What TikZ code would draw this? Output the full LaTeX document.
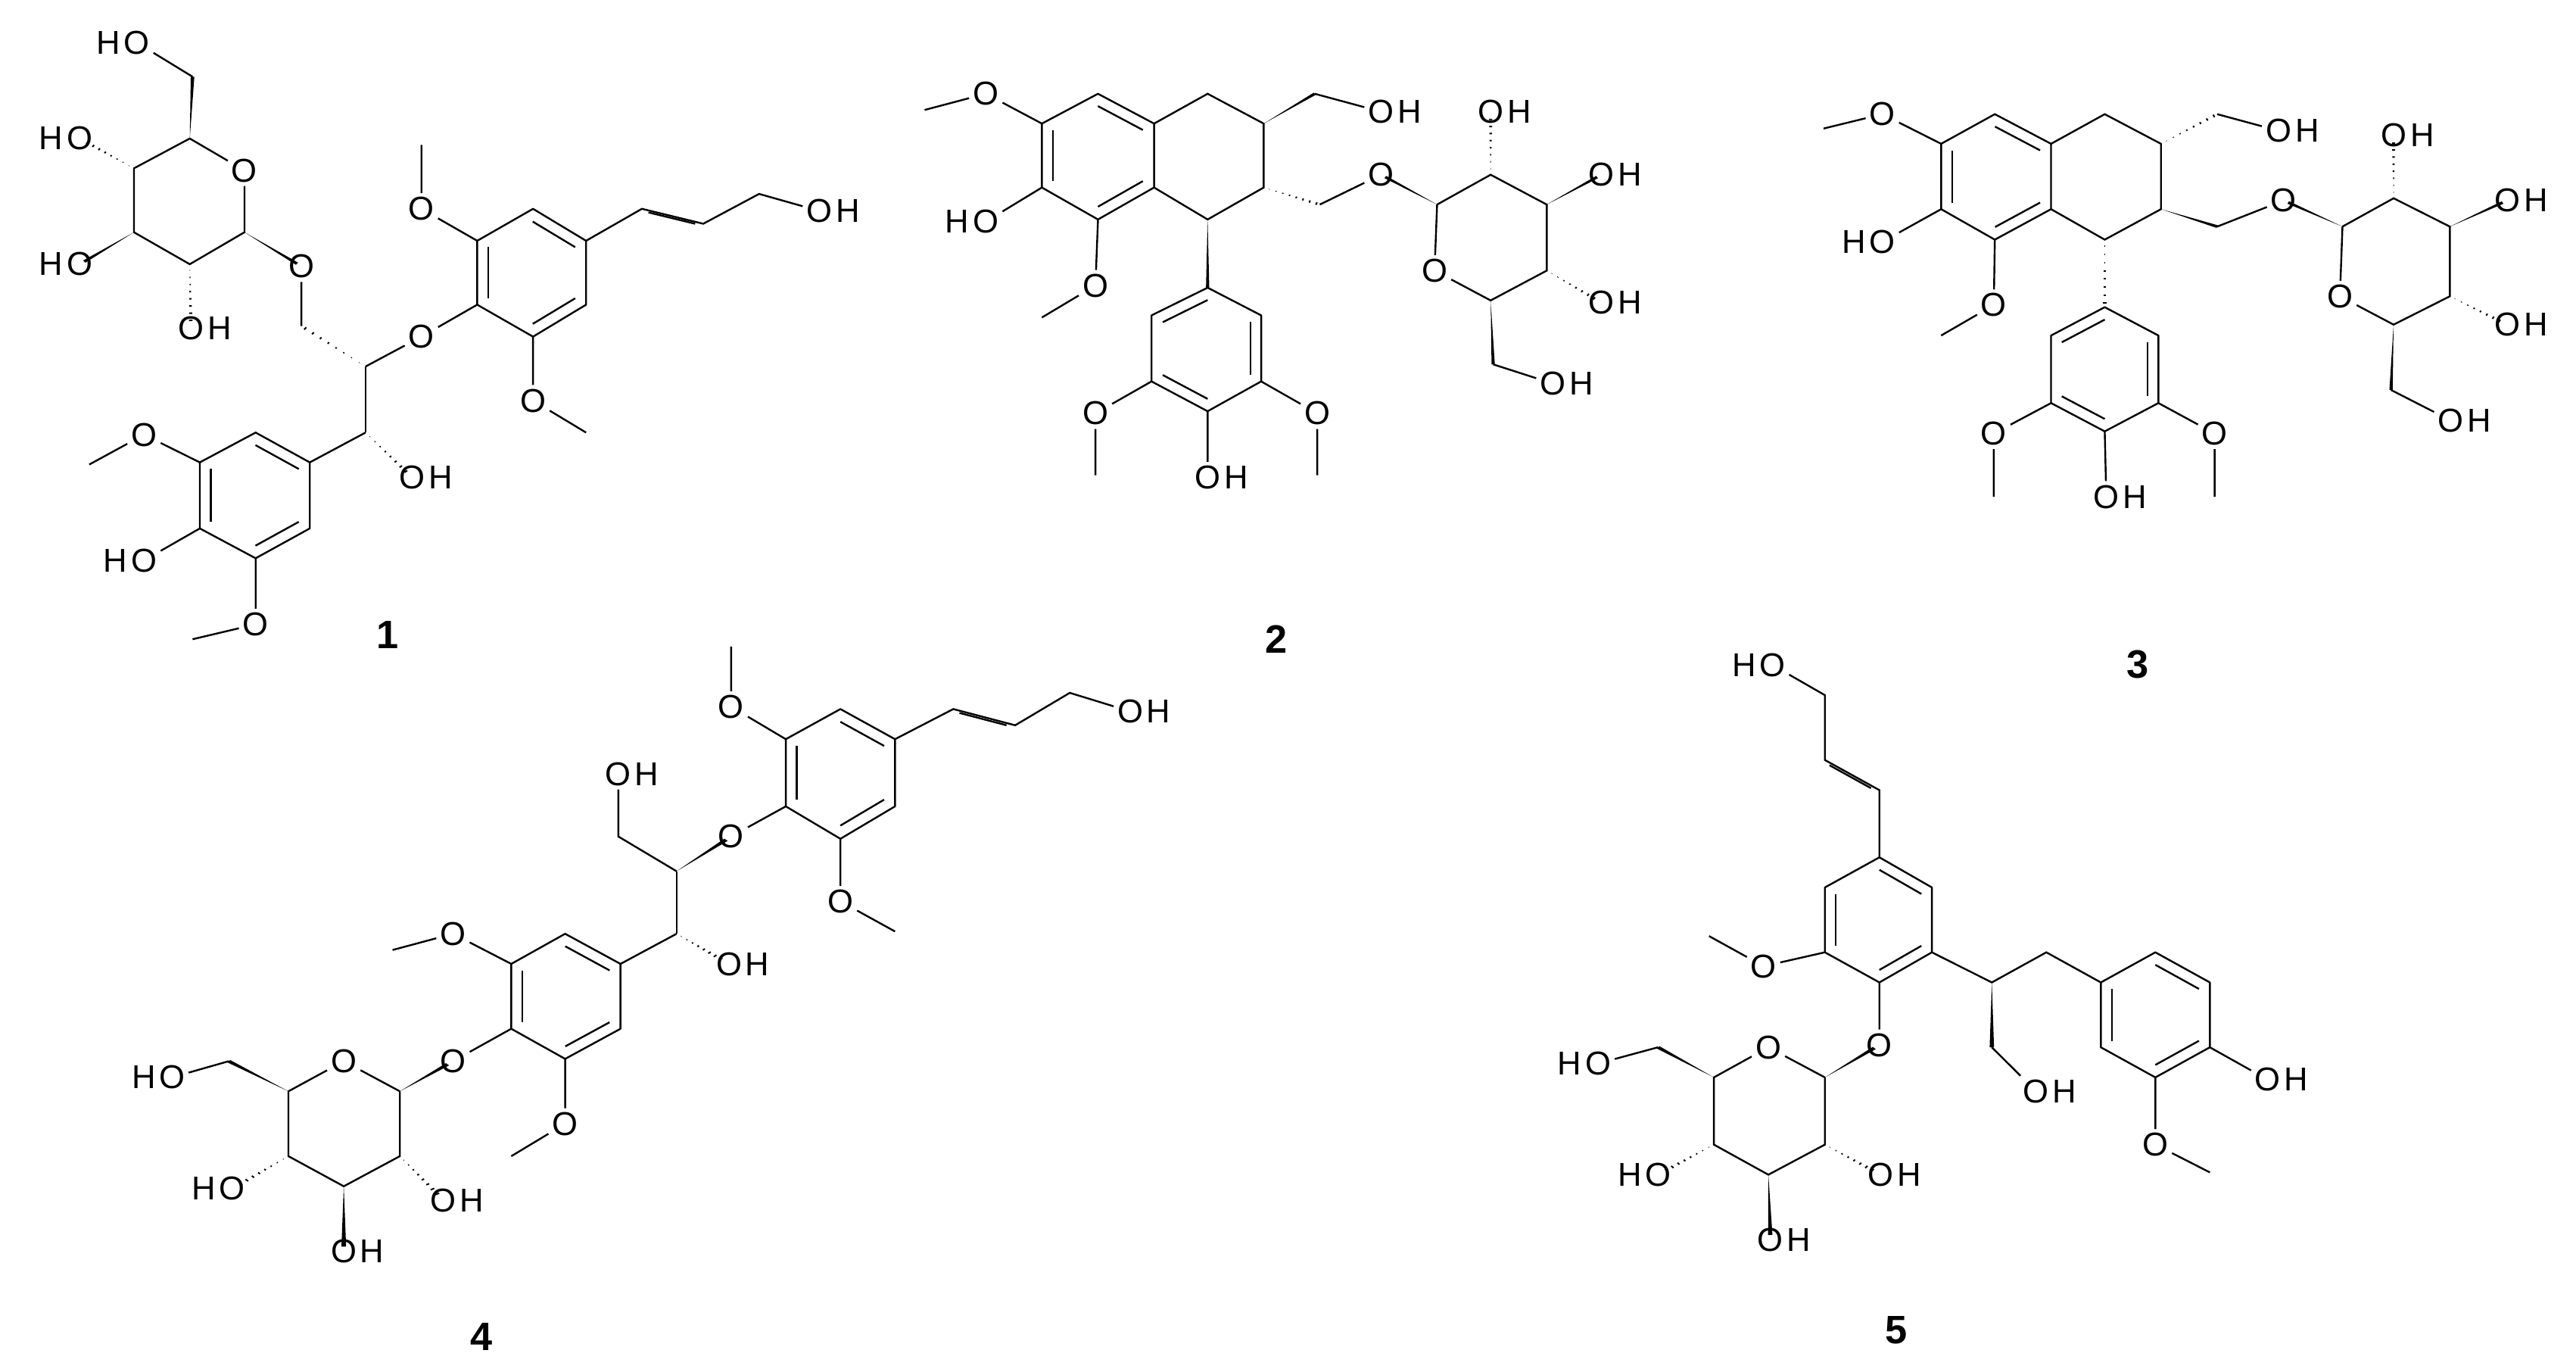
\documentclass[tikz,border=0pt]{standalone}
\usepackage{fontspec}
\usetikzlibrary{calc}
\newfontfamily\arialf{Liberation Sans}
\newcommand\lblf{\arialf\fontsize{20}{24}\selectfont}
\newcommand\numf{\arialf\bfseries\fontsize{24}{28}\selectfont}
\tikzset{lab/.style={font=\lblf,inner sep=1.8pt},hlab/.style={font=\lblf,inner sep=0pt},num/.style={font=\numf},
 every path/.style={line width=1.1pt}}
\newcommand\Ol[2]{\node[lab] (#1) at (#2) {O};}
\newcommand\OHl[2]{\node[lab] (#1) at (#2) {O};\node[hlab,anchor=base west] at ([xshift=-1.8pt]#1.base east) {H};}
\newcommand\HOl[2]{\node[lab] (#1) at (#2) {O};\node[hlab,anchor=base east] at ([xshift=1.8pt]#1.base west) {H};}
\newcommand\wdg[2]{\fill (#1) -- ($(#2)!3.2pt!90:(#1)$) -- ($(#2)!3.2pt!-90:(#1)$) -- cycle;}
\newcommand\hsh[2]{\foreach \t in {0.1,0.22,0.34,0.46,0.58,0.7,0.82,0.94}{\pgfmathsetmacro\hwd{\t*3.4}\draw[line width=0.9pt] ($(#1)!\t!(#2)!\hwd pt!90:(#2)$) -- ($(#1)!\t!(#2)!\hwd pt!-90:(#2)$);}}
\newcommand\wdgL[2]{\coordinate (tmpw) at ($(#2)!10pt!(#1)$);\wdg{#1}{tmpw}}
\newcommand\hshL[2]{\coordinate (tmph) at ($(#2)!10pt!(#1)$);\hsh{#1}{tmph}}
\newcommand\hexring[7]{\coordinate (#7) at ($(#1)!.5!(#4)$);\draw[line join=round] (#1)--(#2)--(#3)--(#4)--(#5)--(#6)--cycle;}
\newcommand\innerdb[3]{\draw ($(#1)!.2!(#3)$)--($(#2)!.2!(#3)$);}
\newcommand\alk[2]{\draw ($(#1)!.12!(#2)!4.5pt!-90:(#2)$) -- ($(#2)!.12!(#1)!4.5pt!90:(#1)$);}
\begin{document}
\begin{tikzpicture}[x=1pt,y=-1pt]
\useasboundingbox (0,0) rectangle (1560,828.4);
% ===== 1 =====
\begin{scope}[xscale=.338,yscale=.258]
\HOl{aO6}{245,100}
\coordinate (aC6) at (345,180); \coordinate (aC5) at (340,325);
\Ol{aOr}{438,400}
\coordinate (aC1) at (438,545); \coordinate (aC2) at (340,620);
\coordinate (aC3) at (240,545); \coordinate (aC4) at (240,395);
\draw (aO6)--(aC6); \wdg{aC5}{aC6}
\draw (aC5)--(aOr)--(aC1)--(aC2)--(aC3)--(aC4)--(aC5);
\HOl{aO4}{143,325} \hshL{aC4}{aO4}
\HOl{aO3}{143,620} \wdgL{aC3}{aO3}
\OHl{aO2}{342,770} \hshL{aC2}{aO2}
\Ol{aOg}{540,625} \wdgL{aC1}{aOg}
\coordinate (aCH) at (540,765); \draw (aOg)--(aCH);
\coordinate (aCb) at (655,860); \hsh{aCb}{aCH}
\Ol{aOe}{755,790} \draw (aCb)--(aOe);
\coordinate (aQ1) at (855,715); \coordinate (aQ2) at (855,565); \coordinate (aQ3) at (955,490);
\coordinate (aQ4) at (1050,565); \coordinate (aQ5) at (1050,715); \coordinate (aQ6) at (955,790);
\hexring{aQ1}{aQ2}{aQ3}{aQ4}{aQ5}{aQ6}{aQc}
\innerdb{aQ3}{aQ4}{aQc}\innerdb{aQ1}{aQ2}{aQc}\innerdb{aQ5}{aQ6}{aQc}
\draw (aOe)--(aQ1);
\Ol{aOm1}{755,490} \coordinate (aM1) at (755,340); \draw (aQ2)--(aOm1)--(aM1);
\Ol{aOm2}{955,940} \coordinate (aM2) at (1050,1015); \draw (aQ6)--(aOm2)--(aM2);
\coordinate (aA) at (1150,490); \coordinate (aB) at (1260,525); \coordinate (aCH2) at (1360,455);
\OHl{aOH}{1468,495}
\draw (aQ4)--(aA)--(aB)--(aCH2)--(aOH); \alk{aA}{aB}
\coordinate (aCa) at (655,1015); \draw (aCb)--(aCa);
\OHl{aOa}{738,1120} \hshL{aCa}{aOa}
\coordinate (aP1) at (555,1085); \coordinate (aP2) at (458,1015); \coordinate (aP3) at (358,1085);
\coordinate (aP4) at (358,1240); \coordinate (aP5) at (458,1310); \coordinate (aP6) at (555,1240);
\hexring{aP1}{aP2}{aP3}{aP4}{aP5}{aP6}{aPc}
\innerdb{aP1}{aP2}{aPc}\innerdb{aP3}{aP4}{aPc}\innerdb{aP5}{aP6}{aPc}
\draw (aCa)--(aP1);
\Ol{aOm3}{258,1020} \coordinate (aM3) at (160,1090); \draw (aP3)--(aOm3)--(aM3);
\HOl{aOh}{258,1315} \draw (aP4)--(aOh);
\Ol{aOm4}{458,1465} \coordinate (aM4) at (345,1500); \draw (aP5)--(aOm4)--(aM4);
\node[num] (n1) at (695,1490) {1};
\end{scope}
% ===== 2 =====
\begin{scope}[shift={(527.5,0)},xscale=.3088,yscale=.258]
\coordinate (bA1) at (335,290); \coordinate (bA2) at (445,220); \coordinate (bA3) at (555,290);
\coordinate (bA4) at (555,440); \coordinate (bA5) at (445,515); \coordinate (bA6) at (335,440);
\hexring{bA1}{bA2}{bA3}{bA4}{bA5}{bA6}{bAc}
\innerdb{bA2}{bA3}{bAc}\innerdb{bA4}{bA5}{bAc}\innerdb{bA6}{bA1}{bAc}
\Ol{bO1}{225,220} \coordinate (bM1) at (105,258); \draw (bA1)--(bO1)--(bM1);
\HOl{bOh}{225,520} \draw (bA6)--(bOh);
\Ol{bO2}{440,670} \coordinate (bM2) at (335,745); \draw (bA5)--(bO2)--(bM2);
\coordinate (bB1) at (660,220); \coordinate (bB2) at (770,290); \coordinate (bB3) at (770,440); \coordinate (bB4) at (660,515);
\draw (bA3)--(bB1)--(bB2)--(bB3)--(bB4)--(bA4);
\coordinate (bC7) at (870,220); \wdg{bB2}{bC7}
\OHl{bO7}{1000,262} \draw (bC7)--(bO7);
\coordinate (bC8) at (880,480); \hsh{bB3}{bC8}
\Ol{bOg}{1000,410} \draw (bC8)--(bOg);
\coordinate (bG1) at (1110,480); \coordinate (bG2) at (1215,410); \coordinate (bG3) at (1325,480);
\coordinate (bG4) at (1325,635); \coordinate (bG5) at (1215,705); \Ol{bOr}{1105,635}
\wdgL{bG1}{bOg}
\draw (bG1)--(bG2)--(bG3)--(bG4)--(bG5)--(bOr)--(bG1);
\OHl{bOa}{1215,262} \hshL{bG2}{bOa}
\OHl{bOb}{1432,410} \wdgL{bG3}{bOb}
\OHl{bOc}{1432,710} \hshL{bG4}{bOc}
\coordinate (bG6) at (1220,855); \wdg{bG5}{bG6}
\OHl{bOd}{1337,900} \draw (bG6)--(bOd);
\coordinate (bD1) at (660,675); \coordinate (bD2) at (765,740); \coordinate (bD3) at (765,895);
\coordinate (bD4) at (660,965); \coordinate (bD5) at (550,895); \coordinate (bD6) at (550,740);
\hexring{bD1}{bD2}{bD3}{bD4}{bD5}{bD6}{bDc}
\innerdb{bD6}{bD1}{bDc}\innerdb{bD2}{bD3}{bDc}\innerdb{bD4}{bD5}{bDc}
\wdg{bB4}{bD1}
\Ol{bO3}{440,970} \coordinate (bM3) at (440,1115); \draw (bD5)--(bO3)--(bM3);
\Ol{bO4}{875,970} \coordinate (bM4) at (875,1115); \draw (bD3)--(bO4)--(bM4);
\OHl{bO5}{660,1120} \draw (bD4)--(bO5);
\node[num] (n2) at (795,1500) {2};
\end{scope}
% ===== 3 =====
\begin{scope}[shift={(1078,0)},xscale=.3096,yscale=.2638]
\coordinate (cA1) at (315,330); \coordinate (cA2) at (420,262); \coordinate (cA3) at (530,330);
\coordinate (cA4) at (530,480); \coordinate (cA5) at (420,550); \coordinate (cA6) at (315,480);
\hexring{cA1}{cA2}{cA3}{cA4}{cA5}{cA6}{cAc}
\innerdb{cA2}{cA3}{cAc}\innerdb{cA4}{cA5}{cAc}\innerdb{cA6}{cA1}{cAc}
\Ol{cO1}{200,262} \coordinate (cM1) at (85,295); \draw (cA1)--(cO1)--(cM1);
\HOl{cOh}{200,555} \draw (cA6)--(cOh);
\Ol{cO2}{418,700} \coordinate (cM2) at (315,770); \draw (cA5)--(cO2)--(cM2);
\coordinate (cB1) at (635,262); \coordinate (cB2) at (745,330); \coordinate (cB3) at (745,480); \coordinate (cB4) at (635,550);
\draw (cA3)--(cB1)--(cB2)--(cB3)--(cB4)--(cA4);
\coordinate (cC7) at (855,262); \hsh{cB2}{cC7}
\OHl{cO7}{975,300} \draw (cC7)--(cO7);
\coordinate (cC8) at (855,520); \wdg{cB3}{cC8}
\Ol{cOg}{985,460} \draw (cC8)--(cOg);
\coordinate (cG1) at (1100,520); \coordinate (cG2) at (1200,455); \coordinate (cG3) at (1310,520);
\coordinate (cG4) at (1310,680); \coordinate (cG5) at (1200,745); \Ol{cOr}{1095,680}
\wdgL{cG1}{cOg}
\draw (cG1)--(cG2)--(cG3)--(cG4)--(cG5)--(cOr)--(cG1);
\OHl{cOa}{1200,310} \hshL{cG2}{cOa}
\OHl{cOb}{1422,460} \wdgL{cG3}{cOb}
\OHl{cOc}{1422,745} \hshL{cG4}{cOc}
\coordinate (cG6) at (1195,895); \wdg{cG5}{cG6}
\OHl{cOd}{1312,965} \draw (cG6)--(cOd);
\coordinate (cD1) at (635,705); \coordinate (cD2) at (740,770); \coordinate (cD3) at (740,925);
\coordinate (cD4) at (635,990); \coordinate (cD5) at (530,925); \coordinate (cD6) at (530,770);
\hexring{cD1}{cD2}{cD3}{cD4}{cD5}{cD6}{cDc}
\innerdb{cD6}{cD1}{cDc}\innerdb{cD2}{cD3}{cDc}\innerdb{cD4}{cD5}{cDc}
\hsh{cB4}{cD1}
\Ol{cO3}{418,995} \coordinate (cM3) at (418,1140); \draw (cD5)--(cO3)--(cM3);
\Ol{cO4}{850,995} \coordinate (cM4) at (850,1140); \draw (cD3)--(cO4)--(cM4);
\OHl{cO5}{638,1140} \draw (cD4)--(cO5);
\node[num] (n3) at (700,1525) {3};
\end{scope}
% ===== 4 =====
\begin{scope}[shift={(45.9,390)},xscale=.441,yscale=.2805]
\coordinate (dQ1) at (975,350); \coordinate (dQ2) at (975,205); \coordinate (dQ3) at (1050,140);
\coordinate (dQ4) at (1125,205); \coordinate (dQ5) at (1125,350); \coordinate (dQ6) at (1050,420);
\hexring{dQ1}{dQ2}{dQ3}{dQ4}{dQ5}{dQ6}{dQc}
\innerdb{dQ3}{dQ4}{dQc}\innerdb{dQ1}{dQ2}{dQc}\innerdb{dQ5}{dQ6}{dQc}
\Ol{dOm1}{900,135} \coordinate (dM1) at (900,5); \draw (dQ2)--(dOm1)--(dM1);
\Ol{dOm2}{1050,555} \coordinate (dM2) at (1125,620); \draw (dQ6)--(dOm2)--(dM2);
\coordinate (dA) at (1205,140); \coordinate (dB) at (1290,175); \coordinate (dCH2) at (1365,105);
\OHl{dOH}{1448,145}
\draw (dQ4)--(dA)--(dB)--(dCH2)--(dOH); \alk{dA}{dB}
\Ol{dOe}{900,415} \draw (dQ1)--(dOe);
\coordinate (dCb) at (825,490); \wdgL{dCb}{dOe}
\coordinate (dCg) at (745,415); \OHl{dOg}{745,280} \draw (dCb)--(dCg)--(dOg);
\coordinate (dCa) at (825,625); \draw (dCb)--(dCa);
\OHl{dOa}{897,690} \hshL{dCa}{dOa}
\coordinate (dP1) at (748,690); \coordinate (dP2) at (672,625); \coordinate (dP3) at (598,690);
\coordinate (dP4) at (598,830); \coordinate (dP5) at (672,895); \coordinate (dP6) at (748,830);
\hexring{dP1}{dP2}{dP3}{dP4}{dP5}{dP6}{dPc}
\innerdb{dP1}{dP2}{dPc}\innerdb{dP3}{dP4}{dPc}\innerdb{dP5}{dP6}{dPc}
\draw (dCa)--(dP1);
\Ol{dOm3}{518,625} \coordinate (dM3) at (435,660); \draw (dP3)--(dOm3)--(dM3);
\Ol{dOm4}{672,1035} \coordinate (dM4) at (598,1105); \draw (dP5)--(dOm4)--(dM4);
\Ol{dOg1}{518,900} \draw (dP4)--(dOg1);
\coordinate (dG1) at (445,965); \Ol{dOr}{368,900} \coordinate (dG5) at (292,965);
\coordinate (dG4) at (292,1105); \coordinate (dG3) at (368,1170); \coordinate (dG2) at (445,1105);
\wdgL{dG1}{dOg1}
\draw (dG1)--(dOr)--(dG5)--(dG4)--(dG3)--(dG2)--(dG1);
\coordinate (dG6) at (210,900); \wdg{dG5}{dG6}
\HOl{dO6}{132,935} \draw (dG6)--(dO6);
\HOl{dO4}{215,1175} \hshL{dG4}{dO4}
\OHl{dO3}{368,1310} \wdgL{dG3}{dO3}
\OHl{dO2}{505,1200} \hshL{dG2}{dO2}
\node[num] (n4) at (557,1495) {4};
\end{scope}
% ===== 5 =====
\begin{scope}[shift={(917.4,390)},xscale=.4126,yscale=.2805]
\HOl{eOt}{378,45} \coordinate (eCt) at (455,110); \coordinate (eB) at (455,250); \coordinate (eA) at (535,315);
\coordinate (eR1) at (535,460); \coordinate (eR2) at (612,525); \coordinate (eR3) at (612,665);
\coordinate (eR4) at (535,730); \coordinate (eR5) at (455,665); \coordinate (eR6) at (455,525);
\draw (eOt)--(eCt)--(eB)--(eA)--(eR1); \alk{eB}{eA}
\hexring{eR1}{eR2}{eR3}{eR4}{eR5}{eR6}{eRc}
\innerdb{eR1}{eR2}{eRc}\innerdb{eR3}{eR4}{eRc}\innerdb{eR5}{eR6}{eRc}
\Ol{eOm}{365,695} \coordinate (eM) at (285,630); \draw (eR5)--(eOm)--(eM);
\Ol{eOg}{535,865} \draw (eR4)--(eOg);
\coordinate (eG1) at (455,935); \Ol{eOr}{372,870} \coordinate (eG5) at (292,935);
\coordinate (eG4) at (292,1080); \coordinate (eG3) at (372,1145); \coordinate (eG2) at (455,1080);
\wdgL{eG1}{eOg}
\draw (eG1)--(eOr)--(eG5)--(eG4)--(eG3)--(eG2)--(eG1);
\coordinate (eG6) at (210,870); \wdg{eG5}{eG6}
\HOl{eO6}{122,905} \draw (eG6)--(eO6);
\HOl{eO4}{210,1145} \hshL{eG4}{eO4}
\OHl{eO3}{375,1285} \wdgL{eG3}{eO3}
\OHl{eO2}{537,1145} \hshL{eG2}{eO2}
\coordinate (eCb) at (700,730); \coordinate (eCc) at (780,665);
\coordinate (eS1) at (860,730); \coordinate (eS2) at (940,665); \coordinate (eS3) at (1020,730);
\coordinate (eS4) at (1020,870); \coordinate (eS5) at (940,935); \coordinate (eS6) at (860,870);
\draw (eR3)--(eCb)--(eCc)--(eS1);
\coordinate (eCd) at (700,870); \wdg{eCb}{eCd}
\OHl{eOd}{765,965} \draw (eCd)--(eOd);
\hexring{eS1}{eS2}{eS3}{eS4}{eS5}{eS6}{eSc}
\innerdb{eS2}{eS3}{eSc}\innerdb{eS4}{eS5}{eSc}\innerdb{eS6}{eS1}{eSc}
\OHl{eO7}{1105,940} \draw (eS4)--(eO7);
\Ol{eOm2}{940,1080} \coordinate (eM2) at (1020,1140); \draw (eS5)--(eOm2)--(eM2);
\node[num] (n5) at (560,1480) {5};
\end{scope}
\end{tikzpicture}
\end{document}
